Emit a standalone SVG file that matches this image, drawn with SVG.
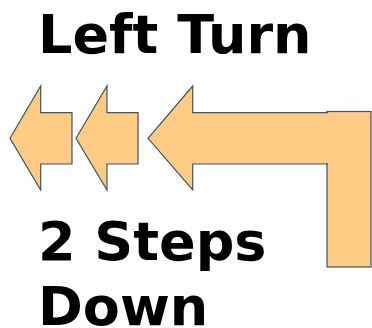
<svg xmlns="http://www.w3.org/2000/svg" width="372" height="328" viewBox="0 0 372 328">
<style>
.shape{fill:#ffcc86;stroke:#3d5566;stroke-width:1.2;stroke-linejoin:miter}
.t{font-family:"DejaVu Sans",Verdana,sans-serif;font-weight:bold;font-size:54px;fill:#000}
</style>
<rect width="372" height="328" fill="#fff"/>
<g id="connectors">
<g id="bend">
<rect class="shape" x="327" y="111.5" width="44" height="155.5"/>
<path class="shape" d="M148,138.3 L192.7,86 L192.7,112.7 L327,112.7 L327,164 L192.7,164 L192.7,190 Z"/>
<line x1="327" y1="113.5" x2="327" y2="163" stroke="#ffcc86" stroke-width="2"/>
</g>
<path id="arrow2" class="shape" d="M76,138.3 L107,86 L107,112.7 L138,112.7 L138,164 L107,164 L107,190 Z"/>
<path id="arrow1" class="shape" d="M10,138.3 L40.7,86 L40.7,112.7 L72,112.7 L72,164 L40.7,164 L40.7,190 Z"/>
</g>
<g id="title"><text class="t" x="38" y="53">Left Turn</text></g>
<g id="label"><text class="t" x="38" y="260">2 Steps</text><text class="t" x="38" y="325">Down</text></g>
</svg>
